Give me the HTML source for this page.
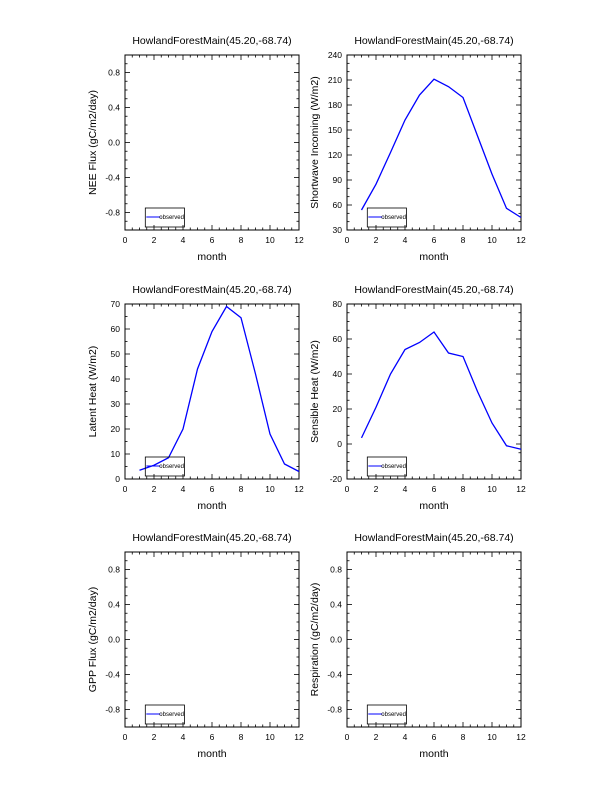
<!DOCTYPE html>
<html><head><meta charset="utf-8"><style>body{margin:0;background:#fff}svg{display:block}text{font-family:"Liberation Sans",sans-serif}</style></head>
<body>
<svg id="s" width="612" height="792" xmlns="http://www.w3.org/2000/svg"></svg>
<script>
var s=document.getElementById('s'),h='';
function panel(x0,y0,ylab,ymin,ymax,major,minor,fmt,data){
 var W=174,H=175,x1=x0+W,y1=y0+H;
 function X(m){return x0+m/12*W} function Y(v){return y1-(v-ymin)/(ymax-ymin)*H}
 h+='<text x="'+(x0+W/2)+'" y="'+(y0-11)+'" font-size="10.5" text-anchor="middle">HowlandForestMain(45.20,-68.74)</text>';
 h+='<rect x="'+x0+'" y="'+y0+'" width="'+W+'" height="'+H+'" fill="none" stroke="#000" stroke-width="1"/>';
 for(var m=0;m<=12;m+=0.5){var L=(m%2==0)?5:2.5,xx=X(m);
  h+='<line x1="'+xx+'" y1="'+y1+'" x2="'+xx+'" y2="'+(y1-L)+'" stroke="#000" stroke-width="0.8"/><line x1="'+xx+'" y1="'+y0+'" x2="'+xx+'" y2="'+(y0+L)+'" stroke="#000" stroke-width="0.8"/>';
  if(m%2==0)h+='<text x="'+xx+'" y="'+(y1+13)+'" font-size="8.5" text-anchor="middle">'+m+'</text>';}
 var n=Math.round((ymax-ymin)/minor);
 for(var i=0;i<=n;i++){var v=ymin+i*minor,yy=Y(v);var isM=Math.abs(((v-major[0])/major[1])-Math.round((v-major[0])/major[1]))<1e-6;var L=isM?5:2.5;
  h+='<line x1="'+x0+'" y1="'+yy+'" x2="'+(x0+L)+'" y2="'+yy+'" stroke="#000" stroke-width="0.8"/><line x1="'+x1+'" y1="'+yy+'" x2="'+(x1-L)+'" y2="'+yy+'" stroke="#000" stroke-width="0.8"/>';
  if(isM)h+='<text x="'+(x0-5)+'" y="'+(yy+3)+'" font-size="8.5" text-anchor="end">'+fmt(v)+'</text>';}
 h+='<text x="'+(x0+W/2)+'" y="'+(y1+30)+'" font-size="10.5" text-anchor="middle">month</text>';
 h+='<text transform="translate('+(x0-29)+','+(y0+H/2)+') rotate(-90)" font-size="10.5" text-anchor="middle">'+ylab+'</text>';
 if(data){var p=data.map(function(v,i){return X(i+1)+','+Y(v)}).join(' ');h+='<polyline points="'+p+'" fill="none" stroke="#00f" stroke-width="1.3"/>';}
 var lx=X(1.4),lw=X(4.1)-lx;
 h+='<rect x="'+lx+'" y="'+(y1-22)+'" width="'+lw+'" height="19" fill="none" stroke="#000" stroke-width="0.8"/>';
 h+='<line x1="'+(lx+1)+'" y1="'+(y1-13)+'" x2="'+(lx+15)+'" y2="'+(y1-13)+'" stroke="#00f" stroke-width="1"/>';
 h+='<text x="'+(lx+14)+'" y="'+(y1-11)+'" font-size="6">observed</text>';
}
function f1(v){return (Math.abs(v)<1e-9?0:v).toFixed(1)} function f0(v){return Math.round(v)+''}
panel(125,55,'NEE Flux (gC/m2/day)',-1,1,[-0.8,0.4],0.1,f1,null);
panel(347,55,'Shortwave Incoming (W/m2)',30,240,[30,30],10,f0,[54,85,123,162,192,211,202,189,143,97,56,45]);
panel(125,304,'Latent Heat (W/m2)',0,70,[0,10],5,f0,[3.5,5.5,8.5,20,44,59,69,64.5,42,18,6,3]);
panel(347,304,'Sensible Heat (W/m2)',-20,80,[-20,20],5,f0,[3.5,21,40,54,58,64,52,50,30,12,-1,-3]);
panel(125,552,'GPP Flux (gC/m2/day)',-1,1,[-0.8,0.4],0.1,f1,null);
panel(347,552,'Respiration (gC/m2/day)',-1,1,[-0.8,0.4],0.1,f1,null);
s.innerHTML=h;
</script>
</body></html>
